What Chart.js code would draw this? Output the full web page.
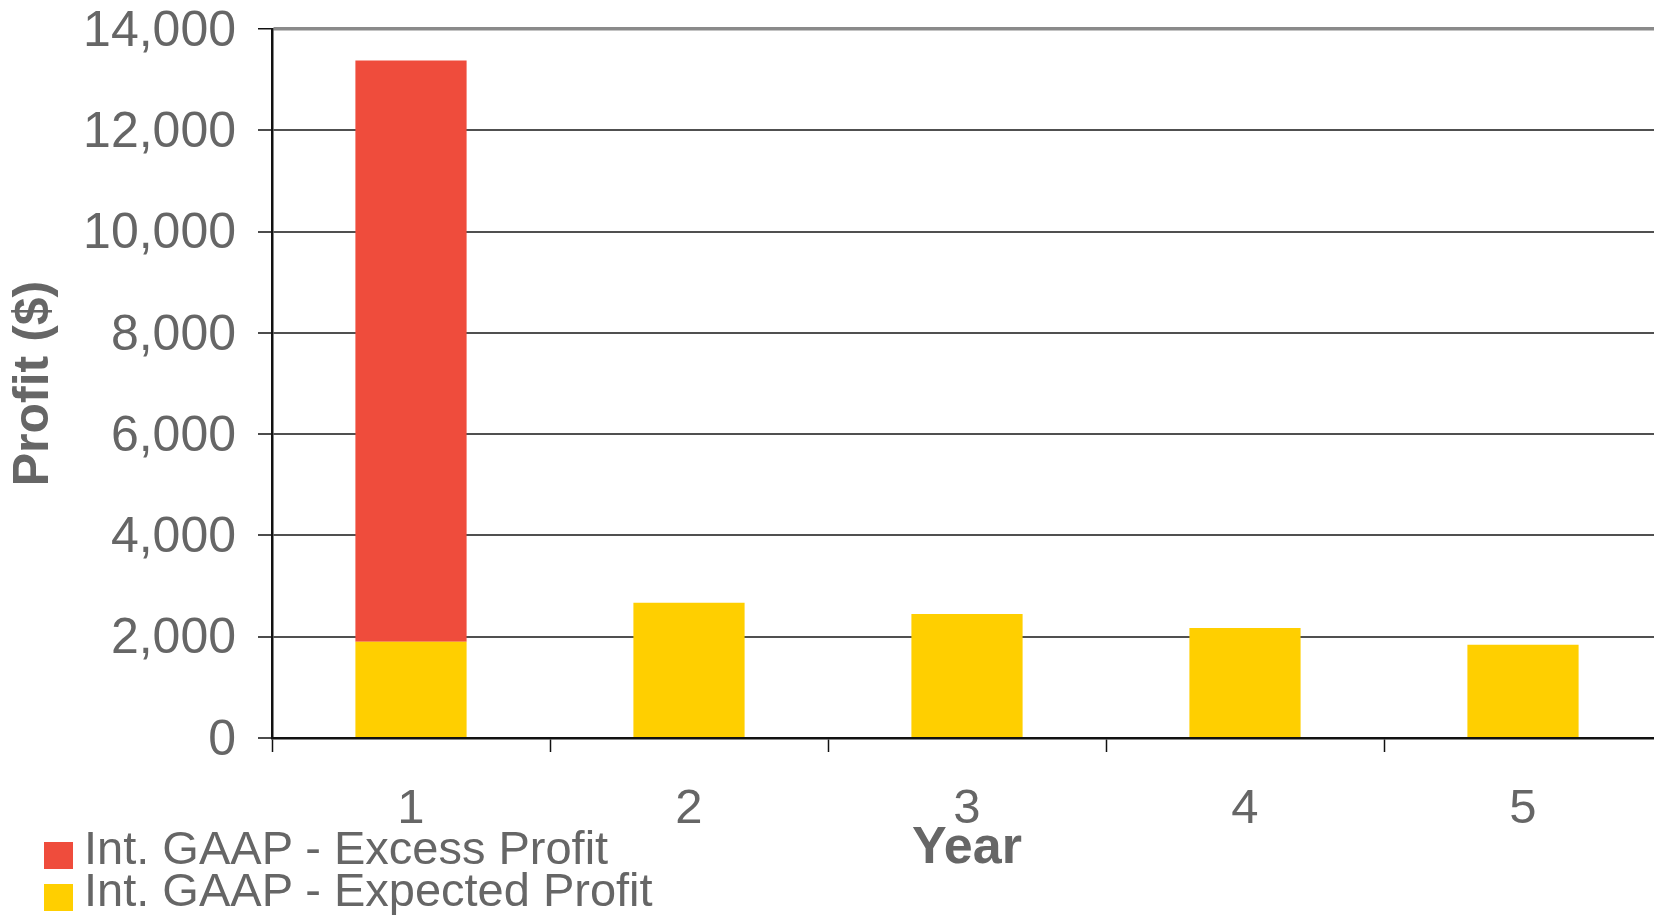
<!DOCTYPE html>
<html>
<head>
<meta charset="utf-8">
<script src="https://cdn.jsdelivr.net/npm/chart.js@4.4.1/dist/chart.umd.min.js"></script>
<style>
    html, body { margin: 0; padding: 0; background: #fff; overflow: hidden; }
    .wrap { position: absolute; left: 0; top: 0; width: 1670px; height: 915px; }
    .legend { position: absolute; left: 44px; top: 827px; font-family: "Liberation Sans", Arial, sans-serif; font-size: 47px; color: #666; }
    .legend .row { position: relative; height: 42px; line-height: 42px; white-space: nowrap; }
    .legend .box { position: absolute; left: 0; top: 15px; width: 29px; height: 27px; }
    .legend .txt { margin-left: 40px; }
</style>
</head>
<body>
<div class="wrap">
    <canvas id="profitChart" width="1670" height="915"></canvas>
</div>
<div class="legend" id="legend"></div>

<script>
    const years = ["1", "2", "3", "4", "5"];
    const expectedProfit = [1900, 2670, 2450, 2170, 1840];
    const excessProfit = [11480, 0, 0, 0, 0];
    const yTicks = { min: 0, max: 14000, step: 2000 };

    const font = "'Liberation Sans', Arial, sans-serif";
    const textColor = "#666666";

    const chart = new Chart(document.getElementById("profitChart"), {
        type: "bar",
        data: {
            labels: years,
            datasets: [{
                label: "Int. GAAP - Expected Profit",
                data: expectedProfit,
                backgroundColor: "#ffcf00"
            }, {
                label: "Int. GAAP - Excess Profit",
                data: excessProfit,
                backgroundColor: "#ef4c3c"
            }]
        },
        options: {
            responsive: false,
            animation: false,
            devicePixelRatio: 1,
            categoryPercentage: 1,
            barPercentage: 0.4,
            layout: { padding: { left: 0, top: 29, right: 8, bottom: 0 } },
            plugins: {
                legend: { display: false },
                tooltip: { enabled: false }
            },
            scales: {
                x: {
                    stacked: true,
                    afterFit: s => { s.height = 177; },
                    grid: {
                        drawOnChartArea: false,
                        drawTicks: true,
                        tickLength: 14,
                        tickColor: "#111",
                        tickWidth: 1.5
                    },
                    border: { color: "#111", width: 2.5 },
                    ticks: {
                        padding: 28,
                        color: textColor,
                        font: { family: font, size: 49 }
                    },
                    title: {
                        display: true,
                        text: "Year",
                        color: textColor,
                        font: { family: font, size: 52, weight: "bold" },
                        padding: { top: 0, bottom: 35 }
                    }
                },
                y: {
                    stacked: true,
                    min: yTicks.min,
                    max: yTicks.max,
                    afterFit: s => {
                        s.width = 272;
                        // tick padding would otherwise push the plot down
                        s.paddingTop = 0;
                        s.paddingBottom = 0;
                    },
                    grid: {
                        color: ctx => ctx.tick && ctx.tick.value === yTicks.max ? "#8a8a8a" : "#505050",
                        lineWidth: ctx => ctx.tick && ctx.tick.value === yTicks.max ? 3.5 : 2,
                        tickLength: 14,
                        tickColor: "#111",
                        tickWidth: 1.5
                    },
                    border: { color: "#111", width: 2.5 },
                    ticks: {
                        stepSize: yTicks.step,
                        padding: 22,
                        labelOffset: 3,
                        color: textColor,
                        font: { family: font, size: 50 }
                    },
                    title: {
                        display: true,
                        text: "Profit ($)",
                        color: textColor,
                        font: { family: font, size: 50, weight: "bold" },
                        padding: { top: 4, bottom: 0 }
                    }
                }
            }
        }
    });

    // legend, top row = top of the stack
    const legend = document.getElementById("legend");
    chart.data.datasets.slice().reverse().forEach(ds => {
        const row = document.createElement("div");
        row.className = "row";
        row.innerHTML = '<span class="box" style="background:' + ds.backgroundColor + '"></span><span class="txt"></span>';
        row.querySelector(".txt").textContent = ds.label;
        legend.appendChild(row);
    });
</script>
</body>
</html>
